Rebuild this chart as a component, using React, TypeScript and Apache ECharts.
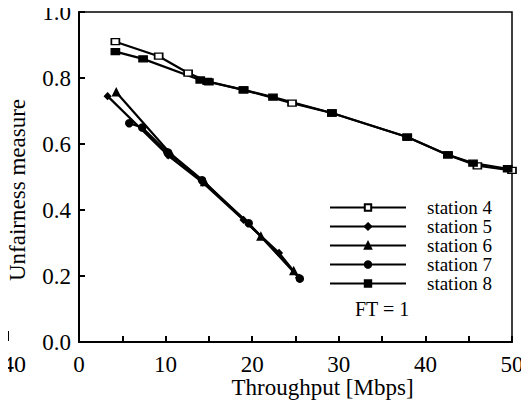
import React, { useEffect, useRef } from "react";
import * as echarts from "echarts";

const seriesNames = ["station 4", "station 5", "station 6", "station 7", "station 8"];
const station4: [number, number][] = [[4.2, 0.91], [9.2, 0.866], [12.6, 0.815], [14.8, 0.79], [19, 0.764], [24.6, 0.724], [29.2, 0.694], [37.9, 0.621], [42.6, 0.567], [46, 0.534], [50, 0.52]];
const station5: [number, number][] = [[3.3, 0.745], [10.3, 0.565], [14.3, 0.483], [19, 0.37], [23.1, 0.27], [25.4, 0.195]];
const station6: [number, number][] = [[4.3, 0.757], [10.6, 0.57], [14.5, 0.485], [21, 0.32], [24.8, 0.215]];
const station7: [number, number][] = [[5.8, 0.663], [7.3, 0.65], [10.2, 0.575], [14.2, 0.49], [19.6, 0.36], [25.5, 0.192]];
const station8: [number, number][] = [[4.2, 0.88], [7.4, 0.858], [14, 0.794], [15, 0.788], [19, 0.764], [22.4, 0.742], [29.2, 0.694], [37.9, 0.621], [42.6, 0.567], [45.5, 0.542], [49.5, 0.525]];
const yTicks = [0, 0.2, 0.4, 0.6, 0.8, 1.0];

const FONT = "serif";

export default function App() {
  const ref = useRef<HTMLDivElement>(null);
  useEffect(() => {
    if (!ref.current) return;
    const chart = echarts.init(ref.current, null, { renderer: "svg" });
    const mk = (name: string, data: [number, number][], symbol: string, size: number | number[], fill: string) => ({
      name,
      type: "line",
      data,
      symbol,
      symbolSize: size,
      showAllSymbol: true,
      lineStyle: { color: "#000", width: 2.2 },
      itemStyle: { color: fill, borderColor: "#000", borderWidth: 1.5 },
    });
    chart.setOption({
      animation: false,
      backgroundColor: "#fff",
      grid: { left: 79, right: 17, top: 12, bottom: 59, show: true, borderColor: "#000", borderWidth: 1.5, outerBoundsMode: "none" },
      xAxis: {
        type: "value",
        min: 0,
        max: 50,
        interval: 5,
        name: "Throughput [Mbps]",
        nameLocation: "middle",
        nameGap: 34,
        nameMoveOverlap: false,
        nameTextStyle: { fontFamily: FONT, fontSize: 23, color: "#000", padding: [0, 0, 0, 54] },
        axisLine: { lineStyle: { color: "#000", width: 2 } },
        axisTick: { inside: true, length: 6, lineStyle: { color: "#000", width: 2 } },
        axisLabel: {
          fontFamily: FONT, fontSize: 23, lineHeight: 20, color: "#000", margin: 12,
          formatter: (v: number) => (v % 10 === 0 ? String(v) : ""),
        },
        splitLine: { show: false },
      },
      yAxis: {
        type: "value",
        min: 0,
        max: 1,
        interval: 0.2,
        name: "Unfairness measure",
        nameLocation: "middle",
        nameGap: 50,
        nameMoveOverlap: false,
        nameTextStyle: { fontFamily: FONT, fontSize: 23, color: "#000", padding: [0, 26, 0, 0] },
        axisLine: { lineStyle: { color: "#000", width: 2 } },
        axisTick: { inside: true, length: 6, lineStyle: { color: "#000", width: 2 } },
        axisLabel: {
          fontFamily: FONT, fontSize: 23, color: "#000", margin: 8, padding: [16, 0, 0, 0],
          formatter: (v: number) => (yTicks.some((t) => Math.abs(t - v) < 1e-6) ? v.toFixed(1) : ""),
        },
        splitLine: { show: false },
      },
      legend: {
        orient: "vertical",
        left: 324,
        top: 193,
        itemWidth: 76,
        itemHeight: 8,
        itemGap: 0,
        data: seriesNames,
        textStyle: { fontFamily: FONT, fontSize: 19, color: "#000", padding: [0, 0, 0, 16], lineHeight: 19 },
      },
      graphic: [
        { type: "text", left: 355, top: 299, style: { text: "FT = 1", fontFamily: FONT, fontSize: 20, fill: "#000" } },
        { type: "text", left: 2, top: 352, style: { text: "40", fontFamily: FONT, fontSize: 24, fill: "#000" } },
        { type: "polyline", shape: { points: [[0, 340], [8, 340], [8, 331]] }, style: { stroke: "#000", lineWidth: 2, fill: null } },
      ],
      series: [
        mk("station 4", station4, "rect", [8, 6], "#fff"),
        mk("station 5", station5, "diamond", 6, "#000"),
        mk("station 6", station6, "triangle", 7, "#000"),
        mk("station 7", station7, "circle", 7, "#000"),
        mk("station 8", station8, "rect", [8, 6], "#000"),
      ],
    });
    return () => chart.dispose();
  }, []);
  return <div ref={ref} style={{ width: 529, height: 401, marginLeft: -8, marginTop: -8 }} />;
}
